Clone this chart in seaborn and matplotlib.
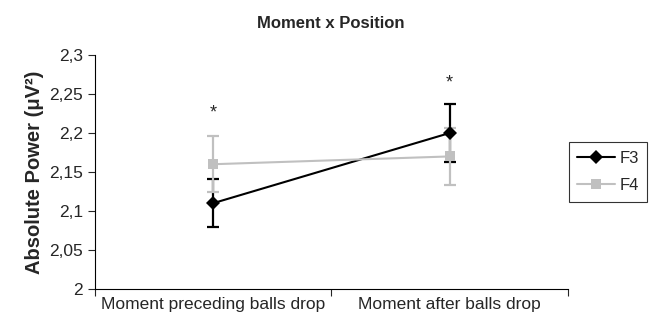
import matplotlib
matplotlib.use('Agg')
import matplotlib.pyplot as plt
import seaborn as sns
import pandas as pd

# data
moments = ['Moment preceding balls drop', 'Moment after balls drop']
f3_mean = [2.11, 2.20]
f3_err = [0.031, 0.037]
f4_mean = [2.16, 2.17]
f4_err = [0.036, 0.037]
star_y = [2.226, 2.264]

sns.set_style('white')
plt.rcParams['font.family'] = ['Liberation Sans', 'DejaVu Sans']

df = pd.DataFrame({
    'x': [0.5, 1.5, 0.5, 1.5],
    'power': f3_mean + f4_mean,
    'series': ['F3', 'F3', 'F4', 'F4'],
})

fig, ax = plt.subplots(figsize=(6.49, 3.22), dpi=100)
fig.subplots_adjust(left=0.146, right=0.875, bottom=0.1025, top=0.829)

colors = {'F3': 'black', 'F4': '#c0c0c0'}
markers = {'F3': 'D', 'F4': 's'}

# error bars first, lines over them
ax.errorbar([0.5, 1.5], f3_mean, yerr=f3_err, fmt='none', ecolor='black',
            elinewidth=1.6, capsize=4, capthick=1.6, zorder=2)
ax.errorbar([0.5, 1.5], f4_mean, yerr=f4_err, fmt='none', ecolor='#c0c0c0',
            elinewidth=1.6, capsize=4, capthick=1.6, zorder=3)

sns.lineplot(data=df, x='x', y='power', hue='series', style='series',
             palette=colors, markers=markers, dashes=False, markersize=7,
             markeredgewidth=0, linewidth=1.5, ax=ax, legend=True, zorder=4)

for x, y in zip([0.5, 1.5], star_y):
    ax.text(x, y, '*', ha='center', va='center', fontsize=13)

ax.set_xlim(0, 2)
ax.set_ylim(2, 2.3)
ax.set_xticks([0, 1, 2])
ax.set_xticklabels([])
ax.set_xticks([0.5, 1.5], minor=True)
ax.set_xticklabels(moments, minor=True, fontsize=12.5)
ax.tick_params(axis='x', which='minor', length=0, pad=6)
ax.tick_params(axis='x', which='major', length=5, width=0.8, direction='out', bottom=True)

yt = [2 + 0.05 * i for i in range(7)]
ax.set_yticks(yt)
ax.set_yticklabels([f'{v:g}'.replace('.', ',') for v in yt], fontsize=12.5)
ax.tick_params(axis='y', length=5, width=0.8, direction='out', left=True)

for s in ['top', 'right']:
    ax.spines[s].set_visible(False)
for s in ['left', 'bottom']:
    ax.spines[s].set_color('black')
    ax.spines[s].set_linewidth(0.8)

ax.set_xlabel('')
ax.set_ylabel('Absolute Power (μV²)', fontsize=14.5, fontweight='bold', labelpad=4)
fig.suptitle('Moment x Position', x=0.51, y=0.95, fontsize=12, fontweight='bold')

leg = ax.legend(loc='center left', bbox_to_anchor=(1.0, 0.50), frameon=True,
                fancybox=False, edgecolor='black', fontsize=12, handlelength=2.3,
                borderaxespad=0.05, labelspacing=0.75, handletextpad=0.25,
                borderpad=0.5, title=None)
leg.get_frame().set_linewidth(0.8)

fig.savefig('out.png', dpi=100)
